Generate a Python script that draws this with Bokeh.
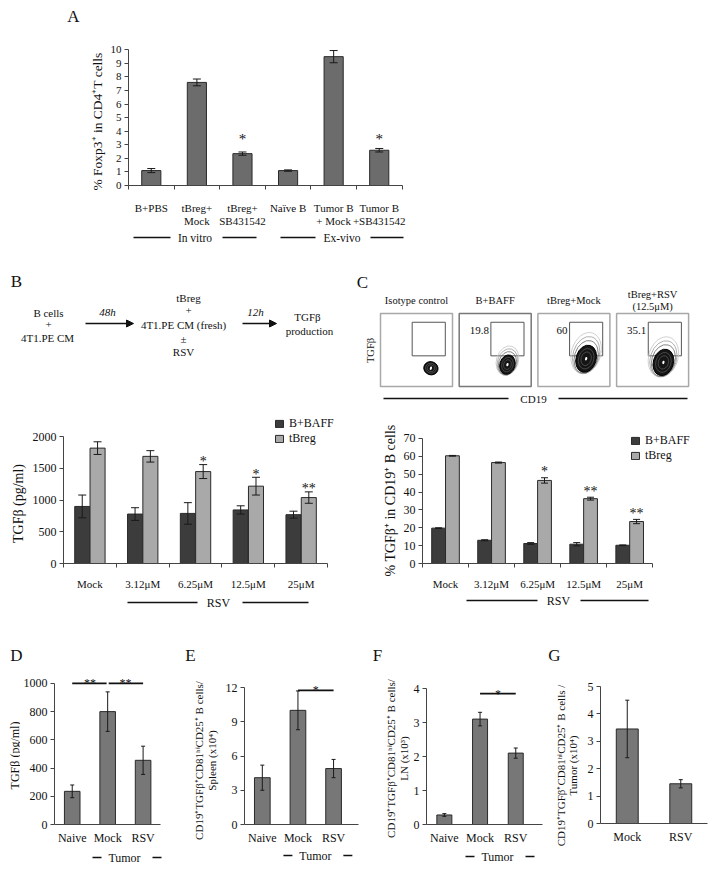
import math
from bokeh.plotting import figure
from bokeh.models import (Range1d, FixedTicker, Label, Arrow, NormalHead, TeeHead, LinearAxis,
                          Whisker, ColumnDataSource, Legend, LegendItem)
from bokeh.layouts import column, row
from bokeh.embed import file_html
from bokeh.resources import INLINE
from bokeh.core.properties import value

FONT = "Liberation Serif"
AX = "#444444"
INK = "#111111"

# ---------------- data ----------------
a_labels_1 = ["B+PBS", "tBreg+", "tBreg+", "Naïve B", "Tumor B", "Tumor B"]
a_labels_2 = ["", "Mock", "SB431542", "", "+ Mock", "+SB431542"]
a_values = [1.1, 7.6, 2.35, 1.1, 9.5, 2.6]
a_errors = [0.15, 0.25, 0.12, 0.05, 0.45, 0.13]
a_stars = ["", "", "*", "", "", "*"]
a_groups = ["In vitro", "Ex-vivo"]
a_yticks = [0, 1, 2, 3, 4, 5, 6, 7, 8, 9, 10]

rsv_doses = ["Mock", "3.12μM", "6.25μM", "12.5μM", "25μM"]
b_baff = [900, 780, 790, 845, 770]
b_baff_err = [180, 100, 170, 65, 55]
b_tbreg = [1820, 1690, 1450, 1220, 1040]
b_tbreg_err = [100, 90, 110, 140, 90]
b_stars = ["", "", "*", "*", "**"]
b_yticks = [0, 500, 1000, 1500, 2000]

c_baff = [19.8, 13.0, 11.2, 10.8, 10.2]
c_baff_err = [0.2, 0.3, 0.5, 0.9, 0.2]
c_tbreg = [60.3, 56.5, 46.5, 36.3, 23.5]
c_tbreg_err = [0.2, 0.3, 1.5, 0.8, 1.2]
c_stars = ["", "", "*", "**", "**"]
c_yticks = [0, 10, 20, 30, 40, 50, 60, 70]

flow_titles = ["Isotype control", "B+BAFF", "tBreg+Mock", "tBreg+RSV"]
flow_subtitles = ["", "", "", "(12.5μM)"]
flow_gate_pct = ["", "19.8", "60", "35.1"]
# contour blob centre / size, as fractions of each flow box
flow_cx = [0.70, 0.67, 0.67, 0.65]
flow_cy = [0.75, 0.70, 0.62, 0.67]
flow_w = [0.20, 0.21, 0.28, 0.28]
flow_h = [0.18, 0.27, 0.38, 0.37]
flow_gate = [0.44, 0.90, 0.12, 0.58]   # x0, x1, y0, y1 (fraction, y from top)

tumor_groups = ["Naive", "Mock", "RSV"]
d_values = [235, 800, 455]
d_err = [45, 140, 100]
d_yticks = [0, 200, 400, 600, 800, 1000]
d_sig = [(0, 1, "**"), (1, 2, "**")]
d_sig_level = 1000

e_values = [4.1, 10.0, 4.9]
e_err = [1.1, 1.7, 0.8]
e_yticks = [0, 3, 6, 9, 12]
e_sig = [(1, 2, "*")]
e_sig_level = 11.75

f_values = [0.28, 3.1, 2.1]
f_err = [0.04, 0.2, 0.15]
f_yticks = [0, 1, 2, 3, 4]
f_sig = [(1, 2, "*")]
f_sig_level = 3.85

g_groups = ["Mock", "RSV"]
g_values = [3.45, 1.45]
g_err = [1.05, 0.15]
g_yticks = [0, 1, 2, 3, 4, 5]

ylab_cells = "CD19⁺TGFβ⁺CD81ʰⁱCD25⁺ B cells/"
ylab_cells_g = "CD19⁺TGFβ⁺CD81ʰⁱCD25⁺ B cells /"


# ---------------- helpers ----------------
def chart(X0, Y0, W, H, L, B, R, T, nx, ny):
    """Frame spans L..X0+W and Y0..B (page px); axis data 0..nx / 0..ny sit on L..R / B..T."""
    X1 = X0 + W
    xr_end = nx * (X1 - L) / (R - L)
    yr_end = ny * (B - Y0) / (B - T)
    p = figure(width=W, height=H, x_range=Range1d(0, xr_end), y_range=Range1d(0, yr_end),
               output_backend="svg", toolbar_location=None, title=None, frame_align=False,
               min_border_left=int(L - X0), min_border_right=0,
               min_border_top=0, min_border_bottom=int(Y0 + H - B))
    p.outline_line_color = None
    p.xgrid.visible = False
    p.ygrid.visible = False
    p.xaxis[0].bounds = (0, nx)
    p.yaxis[0].bounds = (0, ny)

    def py(y):
        return (B - y) / (B - T) * ny

    def sx(d):
        return L + d / nx * (R - L)

    return p, py, sx


def canvas(X0, Y0, W, H):
    p = figure(width=W, height=H, x_range=Range1d(X0, X0 + W), y_range=Range1d(Y0 + H, Y0),
               x_axis_type=None, y_axis_type=None, min_border=0, title=None, frame_align=False,
               output_backend="svg", toolbar_location=None)
    p.outline_line_color = None
    return p


def style(p, xcenters, xlabels, xbounds, yticks, xfs="11px", yfs="12px", xstand=8, minor_out=4):
    xa = p.xaxis[0]
    ya = p.yaxis[0]
    xa.ticker = FixedTicker(ticks=list(xcenters), minor_ticks=list(xbounds))
    xa.major_label_overrides = {float(c): l for c, l in zip(xcenters, xlabels)}
    xa.major_tick_out = 0
    xa.major_tick_in = 0
    xa.minor_tick_out = minor_out
    xa.minor_tick_in = 0
    xa.minor_tick_line_color = AX
    ya.ticker = FixedTicker(ticks=list(yticks))
    ya.major_tick_out = 4
    ya.major_tick_in = 0
    ya.minor_tick_line_color = None
    for a in (xa, ya):
        a.axis_line_color = AX
        a.major_tick_line_color = AX
        a.major_label_text_font = FONT
        a.major_label_text_color = INK
    xa.major_label_text_font_size = xfs
    ya.major_label_text_font_size = yfs
    xa.major_label_standoff = xstand
    ya.major_label_standoff = 3


def lab(p, x, y, text, size, baseline="middle"):
    p.add_layout(Label(x=x, y=y, text=text, text_font=FONT, text_font_size=size,
                       text_align="center", text_baseline=baseline, text_color=INK))


def hline(p, x0, x1, y, width=1.3, color=INK):
    p.add_layout(Arrow(x_start=x0, y_start=y, x_end=x1, y_end=y, start=None, end=None,
                       line_color=color, line_width=width))


def ctext(p, xs, ys, texts, size="11px", style_="normal", angle=0.0, align="center"):
    p.text(x=xs, y=ys, text=texts, text_font=value(FONT), text_font_size=value(size),
           text_font_style=style_, text_align=align, text_baseline="middle",
           text_color=INK, angle=angle)


def cline(p, x0, x1, y, width=1.3):
    p.segment(x0=[x0], y0=[y], x1=[x1], y1=[y], line_color=INK, line_width=width)


def bars(p, xs, tops, errs, width, color, cap=8, line="#2a2a2a"):
    src = ColumnDataSource(dict(x=list(xs), top=list(tops),
                                lo=[t - e for t, e in zip(tops, errs)],
                                hi=[t + e for t, e in zip(tops, errs)]))
    r = p.vbar(x="x", top="top", bottom=0, width=width, source=src,
               fill_color=color, line_color=line, line_width=1)
    p.add_layout(Whisker(source=src, base="x", lower="lo", upper="hi", level="annotation",
                         line_color="#1a1a1a", line_width=1,
                         lower_head=TeeHead(size=cap, line_color="#1a1a1a", line_width=1),
                         upper_head=TeeHead(size=cap, line_color="#1a1a1a", line_width=1)))
    return r


def legend(p, r1, r2, loc):
    leg = Legend(items=[LegendItem(label="B+BAFF", renderers=[r1]),
                        LegendItem(label="tBreg", renderers=[r2])],
                 location=loc, orientation="vertical", glyph_width=10, glyph_height=9,
                 label_height=9, label_standoff=5, spacing=0, padding=0, margin=0,
                 border_line_color=None, background_fill_alpha=0,
                 label_text_font=FONT, label_text_font_size="12px", label_text_color=INK)
    p.add_layout(leg)


def tumor_bracket(p, mx, rx, ypage):
    ctext(p, [(mx + rx) / 2], [ypage], ["Tumor"], "12px")
    cline(p, mx - 14, mx - 5, ypage, 1.5)
    cline(p, rx + 10, rx + 19, ypage, 1.5)


ROT = math.pi / 2

# ---------------- Panel A ----------------
cAL = canvas(8, 8, 99, 221)
ctext(cAL, [73], [16], ["A"], "17px")
ctext(cAL, [97], [121], ["% Foxp3⁺ in CD4⁺T cells"], "13.5px", angle=ROT)

pA, ay, asx = chart(107, 8, 603, 221, 127, 192, 401, 51, 6, 10)
xa = [i + 0.5 for i in range(len(a_values))]
style(pA, xa, a_labels_1, list(range(len(xa) + 1)), a_yticks, xfs="11px", yfs="11px", xstand=12)
ax2 = LinearAxis(ticker=FixedTicker(ticks=xa), axis_line_color=None,
                 major_tick_line_color=None, minor_tick_line_color=None,
                 major_tick_out=0, minor_tick_out=0, major_label_standoff=-2,
                 major_label_text_font=FONT, major_label_text_font_size="11px",
                 major_label_text_color=INK,
                 major_label_overrides={float(c): l for c, l in zip(xa, a_labels_2)})
pA.add_layout(ax2, "below")
bars(pA, xa, a_values, a_errors, 0.42, "#6c6c6c", cap=8)
for x, s in zip(xa, a_stars):
    if s:
        lab(pA, x, ay(144), s, "15px", baseline="alphabetic")

cAB = canvas(8, 229, 702, 21)
g1 = (asx(0) + asx(3)) / 2
g2 = (asx(3) + asx(6)) / 2
ctext(cAB, [g1 - 1, g2 + 9], [237, 237], a_groups, "11.5px")
cline(cAB, 133, 170, 237)
cline(cAB, 222, 256, 237)
cline(cAB, 280, 315, 237)
cline(cAB, 370, 403, 237)

# ---------------- Panel B: scheme ----------------
cBt = canvas(8, 250, 332, 155)
ctext(cBt, [16], [281], ["B"], "17px")
ctext(cBt, [48, 48, 47], [312, 324, 337], ["B cells", "+", "4T1.PE CM"])
ctext(cBt, [107, 255], [311, 311], ["48h", "12h"], style_="italic")
ctext(cBt, [188, 188, 183, 183, 183], [297, 310, 324, 338, 351],
      ["tBreg", "+", "4T1.PE CM (fresh)", "±", "RSV"])
ctext(cBt, [307, 309], [316, 330], ["TGFβ", "production"])
for x0, x1 in [(85, 133), (242, 276)]:
    cBt.add_layout(Arrow(x_start=x0, y_start=323, x_end=x1, y_end=323, line_width=1.5,
                         line_color=INK,
                         end=NormalHead(size=7, fill_color=INK, line_color=INK)))

# ---------------- Panel B: bars ----------------
cBL = canvas(8, 405, 21, 187)
ctext(cBL, [18], [503], ["TGFβ (pg/ml)"], "14px", angle=ROT)

pB, by, bsx = chart(29, 405, 311, 187, 62, 567, 327, 437, 5, 2000)
xc = [i + 0.5 for i in range(len(rsv_doses))]
style(pB, xc, rsv_doses, list(range(len(xc) + 1)), b_yticks, xfs="11px", yfs="12px", xstand=10)
rb1 = bars(pB, [x - 0.145 for x in xc], b_baff, b_baff_err, 0.285, "#3c3c3c", cap=8)
rb2 = bars(pB, [x + 0.145 for x in xc], b_tbreg, b_tbreg_err, 0.285, "#a9a9a9", cap=8)
b_px = 2000 / (567 - 437)
for x, v, e, s in zip(xc, b_tbreg, b_tbreg_err, b_stars):
    if s:
        lab(pB, x + 0.145, v + e + 3 * b_px, s, "14px", baseline="alphabetic")
legend(pB, rb1, rb2, (211, 117))

cBb = canvas(8, 592, 332, 23)
ctext(cBb, [218], [602], ["RSV"], "12px")
cline(cBb, 127, 197, 602)
cline(cBb, 242, 308, 602)

# ---------------- Panel C: flow plots ----------------
cCt = canvas(340, 250, 370, 155)
ctext(cCt, [362], [282], ["C"], "17px")
box_x0, box_w, box_gap, box_y0, box_h = 380, 72, 6.7, 313, 73
for i in range(4):
    bx0 = box_x0 + i * (box_w + box_gap)
    cCt.quad(left=bx0, right=bx0 + box_w, top=box_y0, bottom=box_y0 + box_h,
             fill_color=None, line_color="#777777" if i == 1 else "#a8a8a8", line_width=1.5)
    g = flow_gate
    cCt.quad(left=bx0 + g[0] * box_w, right=bx0 + g[1] * box_w,
             top=box_y0 + g[2] * box_h, bottom=box_y0 + g[3] * box_h,
             fill_color=None, line_color="#555555", line_width=1)
    cxp = bx0 + flow_cx[i] * box_w
    cyp = box_y0 + flow_cy[i] * box_h
    w = flow_w[i] * box_w
    h = flow_h[i] * box_h
    if i > 0:
        for s, col in [(1.45, "#c4c4c4"), (1.3, "#9a9a9a"), (1.15, "#666666")]:
            cCt.ellipse(x=cxp, y=cyp - (s - 1) * h * 0.45, width=w * s, height=h * s * 1.05,
                        angle=-0.3, fill_color=None, line_color=col, line_width=0.8)
    cCt.ellipse(x=cxp, y=cyp, width=w, height=h, angle=-0.3,
                fill_color="#151515", line_color="#000000", line_width=1)
    for s in [0.75, 0.5]:
        cCt.ellipse(x=cxp, y=cyp, width=w * s, height=h * s, angle=-0.3,
                    fill_color=None, line_color="#ffffff", line_alpha=0.35, line_width=0.6)
    cCt.ellipse(x=cxp, y=cyp, width=2.2, height=3.5, angle=-0.3,
                fill_color="#ffffff", line_color=None)
    tx = bx0 + box_w / 2
    if flow_subtitles[i]:
        ctext(cCt, [tx, tx], [294, 306], [flow_titles[i], flow_subtitles[i]], "10.5px")
    else:
        ctext(cCt, [tx], [300], [flow_titles[i]], "10.5px")
    if flow_gate_pct[i]:
        ctext(cCt, [bx0 + g[0] * box_w - 2], [330], [flow_gate_pct[i]], "11px", align="right")
ctext(cCt, [370], [350], ["TGFβ"], "10.5px", angle=ROT)
ctext(cCt, [533], [398], ["CD19"], "11px")
cline(cCt, 383, 508, 398)
cline(cCt, 558, 687, 398)

# ---------------- Panel C: bars ----------------
cCL = canvas(340, 405, 60, 187)
ctext(cCL, [390], [500], ["% TGFβ⁺ in CD19⁺ B cells"], "14px", angle=ROT)

pC, cy, csx = chart(400, 405, 310, 187, 421, 568, 652, 439, 5, 70)
style(pC, xc, rsv_doses, list(range(len(xc) + 1)), c_yticks, xfs="11px", yfs="12px", xstand=10)
rc1 = bars(pC, [x - 0.15 for x in xc], c_baff, c_baff_err, 0.3, "#3c3c3c", cap=7)
rc2 = bars(pC, [x + 0.15 for x in xc], c_tbreg, c_tbreg_err, 0.3, "#a9a9a9", cap=7)
c_px = 70 / (568 - 439)
for x, v, e, s in zip(xc, c_tbreg, c_tbreg_err, c_stars):
    if s:
        lab(pC, x + 0.15, v + e + 6 * c_px, s, "14px", baseline="alphabetic")
legend(pC, rc1, rc2, (208, 100))

cCb = canvas(340, 592, 370, 23)
ctext(cCb, [558], [600], ["RSV"], "12px")
cline(cCb, 466, 537, 600)
cline(cCb, 580, 648, 600)

# ---------------- Panels D-G ----------------
GRAY = "#777777"
x3 = [i + 0.5 for i in range(3)]
x2 = [i + 0.5 for i in range(2)]


def small_panel(letter, X0, W, left_w, L, B, R, T, nx, ny, groups, xs, vals, errs, yticks,
                width, ylines, ylx, yly, yfs, sig=None, sig_level=None, tumor_y=None,
                letter_x=0):
    top = canvas(X0, 615, W, 53)
    ctext(top, [letter_x], [655], [letter], "17px")
    left = canvas(X0, 668, left_w, 179)
    for txt, lx in zip(ylines, ylx):
        ctext(left, [lx], [yly], [txt], yfs, angle=ROT)
    p, py, sx = chart(X0 + left_w, 668, W - left_w, 179, L, B, R, T, nx, ny)
    style(p, xs, groups, [], yticks, xfs="12px", yfs="12px", xstand=6, minor_out=0)
    bars(p, xs, vals, errs, width, GRAY, cap=4)
    if sig:
        for a, b, s in sig:
            pad = 0.03 if len(sig) > 1 else 0.0
            hline(p, xs[a] + (pad if a > 0 else 0), xs[b] - (pad if b < len(xs) - 1 else 0),
                  sig_level, width=1.6)
            lab(p, (xs[a] + xs[b]) / 2, sig_level, s, "12px", baseline="alphabetic")
    bottom = canvas(X0, 847, W, 16)
    if tumor_y:
        tumor_bracket(bottom, sx(xs[1]), sx(xs[2]), tumor_y)
    return column(top, row(left, p), bottom)


colD = small_panel("D", 8, 172, 12, 52, 825, 160, 683, 3, 1000, tumor_groups, x3,
                   d_values, d_err, d_yticks, 0.44, ["TGFβ (pg/ml)"], [14], 755, "12px",
                   d_sig, d_sig_level, 857, letter_x=16)
colE = small_panel("E", 180, 180, 42, 243, 824, 358, 687, 3.2, 12, tumor_groups, x3,
                   e_values, e_err, e_yticks, 0.44, [ylab_cells, "Spleen (x10⁴)"],
                   [198, 211], 760, "11px", e_sig, e_sig_level, 855, letter_x=190)
colF = small_panel("F", 360, 185, 50, 425, 824, 542, 688, 3.25, 4, tumor_groups, x3,
                   f_values, f_err, f_yticks, 0.42, [ylab_cells, "LN (x10³)"],
                   [390, 403], 758, "11px", f_sig, f_sig_level, 856, letter_x=377)
colG = small_panel("G", 545, 165, 39, 599, 823, 707, 686, 2, 5, g_groups, x2,
                   g_values, g_err, g_yticks, 0.41, [ylab_cells_g, "Tumor (x10⁴)"],
                   [560, 572], 765, "11px", letter_x=554)

layout = column(
    column(row(cAL, pA), cAB),
    row(column(cBt, row(cBL, pB), cBb), column(cCt, row(cCL, pC), cCb)),
    row(colD, colE, colF, colG),
    margin=(8, 8, 8, 8),
)

with open("out.html", "w") as fh:
    fh.write(file_html(layout, INLINE, "figure"))
